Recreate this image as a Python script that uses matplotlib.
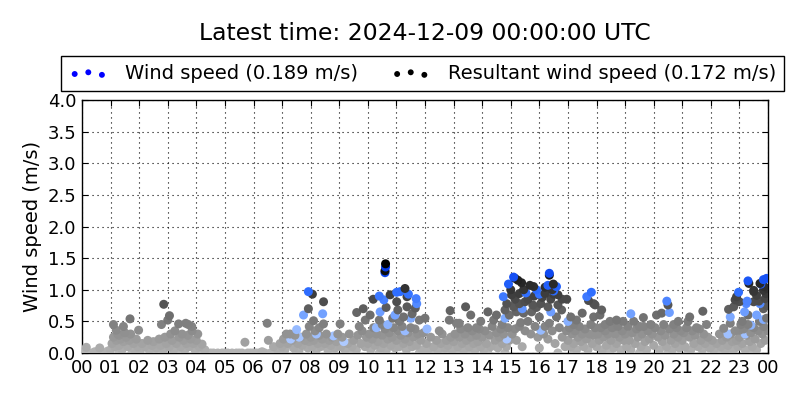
import numpy as np
import matplotlib
matplotlib.use("Agg")
import matplotlib.pyplot as plt
from matplotlib.colors import LinearSegmentedColormap

latest_time = "2024-12-09 00:00:00 UTC"
wind_latest = 0.189
resultant_latest = 0.172
hour_labels = ["%02d" % (h % 24) for h in range(25)]

# blue points: wind speed (hour of day, m/s)
wind_obs = [
    (7.30, 0.22), (7.51, 0.37), (7.60, 0.25), (7.75, 0.60), (7.92, 0.97),
    (8.20, 0.30), (8.42, 0.62), (8.80, 0.27), (9.16, 0.18),
    (10.30, 0.40), (10.40, 0.90), (10.43, 0.65), (10.56, 0.84), (10.60, 1.27),
    (10.62, 1.36), (10.70, 0.45), (10.95, 0.60),
    (11.01, 0.96), (11.13, 0.97), (11.30, 0.35), (11.42, 0.93), (11.50, 0.55),
    (11.69, 0.86), (11.71, 0.78), (12.07, 0.38),
    (14.74, 0.89), (14.80, 0.55), (14.86, 0.22), (14.92, 1.09),
    (15.10, 1.20), (15.40, 0.70), (15.53, 0.95), (15.90, 1.00),
    (16.00, 0.93), (16.05, 0.36), (16.30, 1.07), (16.35, 1.26), (16.40, 0.65),
    (16.50, 0.98), (16.60, 1.05), (17.00, 0.50), (17.66, 0.89), (17.82, 0.96),
    (19.20, 0.62), (20.46, 0.82), (20.55, 0.64),
    (22.60, 0.30), (22.68, 0.57), (22.97, 0.96),
    (23.18, 0.65), (23.20, 0.30), (23.24, 0.78), (23.27, 0.82), (23.30, 1.14),
    (23.40, 0.44), (23.60, 0.60), (23.72, 0.78), (23.75, 1.09), (23.84, 1.16),
    (23.84, 0.53), (23.95, 1.18),
]

# dark points: resultant wind speed
resultant_obs = [
    (1.10, 0.45), (1.20, 0.36), (1.30, 0.28), (1.45, 0.42), (1.50, 0.32),
    (1.68, 0.54), (1.98, 0.36),
    (2.78, 0.45), (2.86, 0.77), (3.00, 0.52), (3.06, 0.59), (3.38, 0.46),
    (3.63, 0.47), (3.72, 0.45), (3.84, 0.42), (6.48, 0.47),
    (7.92, 0.70), (7.95, 0.42), (8.06, 0.93), (8.10, 0.51), (8.30, 0.40),
    (8.45, 0.81), (8.45, 0.46), (9.03, 0.46), (9.61, 0.64), (9.70, 0.42),
    (9.84, 0.70), (9.91, 0.52),
    (10.08, 0.60), (10.19, 0.85), (10.40, 0.52), (10.50, 0.45), (10.60, 1.30),
    (10.62, 1.41), (10.64, 0.72), (10.78, 0.92), (10.87, 0.55),
    (11.01, 0.81), (11.05, 0.68), (11.10, 0.50), (11.25, 0.57), (11.30, 1.02),
    (11.37, 0.89), (11.37, 0.73), (11.55, 0.62), (11.66, 0.71), (11.80, 0.52),
    (12.00, 0.55), (12.50, 0.35), (12.85, 0.52), (12.88, 0.67),
    (13.10, 0.47), (13.20, 0.47), (13.42, 0.73), (13.60, 0.60), (13.80, 0.40),
    (13.95, 0.50), (14.20, 0.65), (14.40, 0.52), (14.50, 0.60), (14.70, 0.45),
    (14.80, 0.68), (14.86, 0.78), (14.95, 0.60),
    (15.00, 1.00), (15.03, 0.92), (15.10, 0.73), (15.15, 1.18), (15.15, 0.85),
    (15.20, 0.65), (15.25, 1.15), (15.30, 0.94), (15.30, 0.78), (15.30, 0.42),
    (15.38, 1.11), (15.45, 1.00), (15.45, 0.63), (15.50, 0.81), (15.60, 0.85),
    (15.67, 1.07), (15.73, 0.65), (15.77, 0.76), (15.80, 1.05), (15.82, 0.90),
    (15.90, 0.72),
    (16.00, 0.57), (16.05, 0.78), (16.10, 0.88), (16.20, 1.04), (16.20, 0.94),
    (16.30, 0.73), (16.35, 1.23), (16.35, 0.47), (16.40, 0.85), (16.45, 1.00),
    (16.49, 1.09), (16.50, 0.93), (16.60, 0.57), (16.65, 0.92), (16.65, 0.76),
    (16.78, 0.68), (16.80, 0.85), (16.96, 0.85),
    (17.10, 0.57), (17.20, 0.45), (17.30, 0.52), (17.50, 0.63), (17.72, 0.83),
    (17.90, 0.78), (17.90, 0.57), (17.95, 0.76),
    (18.12, 0.60), (18.18, 0.68), (18.30, 0.45), (18.47, 0.50), (18.70, 0.52),
    (18.93, 0.50), (19.30, 0.50), (19.50, 0.42), (19.64, 0.56), (19.90, 0.45),
    (20.10, 0.60), (20.28, 0.63), (20.50, 0.76), (20.70, 0.45), (20.86, 0.50),
    (21.20, 0.50), (21.26, 0.57), (21.50, 0.40), (21.72, 0.66),
    (22.30, 0.30), (22.45, 0.39), (22.62, 0.69), (22.68, 0.47), (22.80, 0.73),
    (22.85, 0.84), (22.90, 0.89),
    (23.00, 0.81), (23.00, 0.36), (23.10, 0.50), (23.30, 0.60), (23.33, 1.10),
    (23.50, 0.99), (23.50, 0.97), (23.50, 0.81), (23.60, 0.91), (23.68, 0.82),
    (23.72, 1.10), (23.84, 0.99), (23.84, 0.70), (23.86, 1.05), (23.90, 0.86),
    (23.93, 0.94), (23.95, 0.75), (23.97, 1.02),
]

# light cloud of older readings
history_obs = [
    (0.15, 0.09), (0.45, 0.02), (0.62, 0.08), (0.90, 0.03),
    (1.00, 0.05), (1.05, 0.15), (1.10, 0.25), (1.15, 0.10), (1.20, 0.20),
    (1.25, 0.30), (1.30, 0.12), (1.35, 0.22), (1.40, 0.05), (1.45, 0.18),
    (1.55, 0.25), (1.60, 0.10), (1.65, 0.20), (1.70, 0.30), (1.80, 0.15),
    (1.85, 0.05), (1.90, 0.22), (1.95, 0.10),
    (2.05, 0.05), (2.10, 0.15), (2.20, 0.10), (2.30, 0.20), (2.35, 0.05),
    (2.45, 0.12), (2.50, 0.18), (2.60, 0.08), (2.70, 0.22), (2.75, 0.12),
    (2.85, 0.05), (2.90, 0.25), (2.95, 0.15),
    (3.05, 0.10), (3.10, 0.30), (3.15, 0.20), (3.20, 0.05), (3.25, 0.35),
    (3.30, 0.15), (3.40, 0.25), (3.45, 0.10), (3.50, 0.30), (3.55, 0.20),
    (3.60, 0.05), (3.65, 0.15), (3.70, 0.28), (3.75, 0.10), (3.80, 0.22),
    (3.85, 0.35), (3.90, 0.15), (3.95, 0.05), (4.00, 0.20), (4.05, 0.30),
    (4.10, 0.10), (4.20, 0.14), (4.30, 0.05), (5.70, 0.17),
    (6.30, 0.02), (6.52, 0.20), (6.70, 0.10), (6.85, 0.05), (6.93, 0.15),
    (7.00, 0.10), (7.05, 0.22), (7.10, 0.05), (7.15, 0.30), (7.20, 0.15),
    (7.28, 0.30), (7.35, 0.20), (7.40, 0.08), (7.45, 0.28), (7.55, 0.15),
    (7.60, 0.05), (7.65, 0.25), (7.70, 0.12), (7.80, 0.20), (7.85, 0.30),
    (7.90, 0.08), (7.95, 0.18),
    (8.00, 0.25), (8.05, 0.10), (8.10, 0.20), (8.15, 0.35), (8.20, 0.05),
    (8.25, 0.15), (8.30, 0.28), (8.35, 0.10), (8.40, 0.22), (8.50, 0.15),
    (8.55, 0.30), (8.60, 0.05), (8.65, 0.20), (8.70, 0.12), (8.75, 0.25),
    (8.85, 0.08), (8.90, 0.18), (8.95, 0.30),
    (9.05, 0.10), (9.10, 0.25), (9.20, 0.05), (9.30, 0.15), (9.35, 0.30),
    (9.45, 0.10), (9.50, 0.20), (9.60, 0.05), (9.65, 0.28), (9.75, 0.15),
    (9.80, 0.35), (9.90, 0.10), (9.95, 0.25),
    (10.00, 0.15), (10.05, 0.30), (10.10, 0.05), (10.15, 0.22), (10.20, 0.40),
    (10.25, 0.12), (10.30, 0.30), (10.35, 0.18), (10.45, 0.08), (10.50, 0.28),
    (10.55, 0.15), (10.60, 0.38), (10.65, 0.05), (10.70, 0.22), (10.75, 0.32),
    (10.80, 0.12), (10.85, 0.25), (10.90, 0.40), (10.95, 0.08),
    (11.00, 0.20), (11.05, 0.35), (11.10, 0.10), (11.15, 0.28), (11.20, 0.42),
    (11.25, 0.15), (11.30, 0.22), (11.35, 0.05), (11.40, 0.32), (11.45, 0.18),
    (11.50, 0.40), (11.55, 0.10), (11.60, 0.25), (11.65, 0.38), (11.70, 0.12),
    (11.75, 0.30), (11.85, 0.20), (11.90, 0.05), (11.95, 0.32),
    (12.05, 0.15), (12.10, 0.05), (12.20, 0.25), (12.30, 0.10), (12.40, 0.20),
    (12.45, 0.05), (12.55, 0.15), (12.60, 0.30), (12.70, 0.08), (12.75, 0.20),
    (12.80, 0.12), (12.90, 0.25), (12.95, 0.05),
    (13.00, 0.18), (13.05, 0.30), (13.15, 0.10), (13.20, 0.25), (13.25, 0.38),
    (13.30, 0.15), (13.35, 0.05), (13.40, 0.30), (13.45, 0.20), (13.50, 0.40),
    (13.55, 0.10), (13.60, 0.25), (13.65, 0.35), (13.70, 0.15), (13.75, 0.05),
    (13.80, 0.28), (13.85, 0.18), (13.90, 0.38), (13.95, 0.10),
    (14.00, 0.25), (14.05, 0.05), (14.10, 0.35), (14.15, 0.15), (14.25, 0.28),
    (14.30, 0.10), (14.35, 0.42), (14.45, 0.20), (14.50, 0.32), (14.55, 0.08),
    (14.60, 0.25), (14.65, 0.38), (14.70, 0.15), (14.75, 0.30), (14.85, 0.10),
    (14.90, 0.40), (14.95, 0.20),
    (15.05, 0.30), (15.15, 0.38), (15.20, 0.20), (15.35, 0.48), (15.40, 0.10),
    (15.50, 0.35), (15.60, 0.50), (15.70, 0.30), (15.85, 0.42), (15.95, 0.25),
    (16.00, 0.08), (16.15, 0.30), (16.20, 0.42), (16.30, 0.22), (16.45, 0.35),
    (16.55, 0.15), (16.70, 0.40), (16.80, 0.25), (16.90, 0.10), (16.95, 0.35),
    (17.00, 0.20), (17.05, 0.40), (17.10, 0.10), (17.15, 0.30), (17.20, 0.15),
    (17.25, 0.35), (17.30, 0.05), (17.35, 0.25), (17.40, 0.42), (17.45, 0.18),
    (17.50, 0.30), (17.55, 0.10), (17.60, 0.38), (17.65, 0.22), (17.70, 0.05),
    (17.75, 0.30), (17.80, 0.45), (17.85, 0.15), (17.90, 0.28), (17.95, 0.40),
    (18.00, 0.10), (18.05, 0.30), (18.10, 0.20), (18.15, 0.40), (18.20, 0.05),
    (18.25, 0.25), (18.30, 0.35), (18.35, 0.12), (18.40, 0.30), (18.50, 0.20),
    (18.55, 0.40), (18.60, 0.08), (18.65, 0.30), (18.70, 0.15), (18.75, 0.42),
    (18.80, 0.25), (18.85, 0.05), (18.90, 0.35), (18.95, 0.20),
    (19.00, 0.30), (19.05, 0.10), (19.10, 0.42), (19.15, 0.20), (19.20, 0.05),
    (19.25, 0.32), (19.35, 0.15), (19.40, 0.38), (19.45, 0.25), (19.55, 0.10),
    (19.60, 0.30), (19.65, 0.42), (19.70, 0.18), (19.75, 0.05), (19.80, 0.35),
    (19.85, 0.22), (19.95, 0.30),
    (20.00, 0.12), (20.05, 0.40), (20.15, 0.25), (20.20, 0.05), (20.25, 0.35),
    (20.30, 0.18), (20.35, 0.45), (20.40, 0.28), (20.45, 0.10), (20.55, 0.38),
    (20.60, 0.20), (20.65, 0.05), (20.70, 0.30), (20.75, 0.15), (20.80, 0.40),
    (20.85, 0.25), (20.90, 0.08), (20.95, 0.35),
    (21.00, 0.20), (21.05, 0.32), (21.10, 0.10), (21.15, 0.40), (21.25, 0.25),
    (21.30, 0.05), (21.35, 0.35), (21.40, 0.15), (21.45, 0.28), (21.55, 0.10),
    (21.60, 0.38), (21.65, 0.20), (21.70, 0.05), (21.75, 0.30), (21.80, 0.15),
    (21.85, 0.45), (21.90, 0.25), (21.95, 0.08),
    (22.00, 0.10), (22.05, 0.20), (22.10, 0.05), (22.20, 0.15), (22.35, 0.10),
    (22.40, 0.20), (22.50, 0.05), (22.55, 0.25), (22.60, 0.12), (22.70, 0.30),
    (22.75, 0.18), (22.80, 0.05), (22.85, 0.35), (22.90, 0.20), (22.95, 0.10),
    (23.00, 0.25), (23.05, 0.45), (23.10, 0.15), (23.15, 0.38), (23.20, 0.05),
    (23.25, 0.28), (23.30, 0.45), (23.35, 0.18), (23.40, 0.32), (23.45, 0.10),
    (23.50, 0.40), (23.55, 0.22), (23.60, 0.05), (23.65, 0.35), (23.70, 0.50),
    (23.75, 0.15), (23.80, 0.30), (23.85, 0.42), (23.90, 0.20), (23.95, 0.55),
    (24.00, 0.35),
]

# readings of 0.0 m/s (calm)
calm_hours = [
    0.00, 0.10, 0.25, 0.35, 0.55, 0.70, 0.80, 0.95, 1.30, 1.75, 2.40, 2.65,
    3.35, 4.15, 4.35, 4.50, 4.60, 4.75, 4.90, 5.00, 5.10, 5.25, 5.40, 5.50,
    5.60, 5.80, 5.90, 6.00, 6.10, 6.20, 6.40, 6.60, 6.80, 7.50, 8.80, 9.40,
    10.40, 11.80, 12.15, 12.35, 12.65, 12.85, 13.10, 13.60, 14.20, 14.80,
    16.65, 17.20, 18.45, 19.50, 20.50, 21.20, 22.25, 22.65, 23.40,
]

# gray shades for resultant/history, blue for wind speed (shade follows speed)
gray_cmap = LinearSegmentedColormap.from_list(
    "grays", [(0.0, "#b4b4b4"), (0.35, "#7c7c7c"), (0.6, "#4a4a4a"), (1.0, "#000000")])
blue_cmap = LinearSegmentedColormap.from_list(
    "blues", [(0.0, "#c4d8ff"), (0.4, "#7eaaff"), (0.7, "#2c6cff"), (1.0, "#0036e8")])

gray_pts = resultant_obs + history_obs + [(h, 0.0) for h in calm_hours]
g = np.array(gray_pts)
w = np.array(wind_obs)
hours = np.concatenate([g[:, 0], w[:, 0]])
speeds = np.concatenate([g[:, 1], w[:, 1]])
colors = np.concatenate([gray_cmap(np.clip(g[:, 1] / 1.4, 0, 1)),
                         blue_cmap(np.clip(w[:, 1] / 1.4, 0, 1))])
order = np.argsort(speeds, kind="stable")

fig = plt.figure(figsize=(8, 4), dpi=100)
ax = fig.add_axes([0.1025, 0.1175, 0.8575, 0.6325])
ax.scatter(hours[order], speeds[order], c=colors[order], s=42, linewidths=0, zorder=3)

ax.set_xlim(0, 24)
ax.set_ylim(0, 4.0)
ax.set_xticks(range(25))
ax.set_xticklabels(hour_labels)
ax.set_yticks(np.arange(0, 4.01, 0.5))
ax.set_yticklabels(["%.1f" % v for v in np.arange(0, 4.01, 0.5)])
ax.tick_params(direction="in", top=True, right=True, labelsize=13, length=4, pad=4)
ax.grid(True, linestyle=(0, (1, 3.5)), color="k", linewidth=0.8, zorder=1)
ax.set_axisbelow(True)
for sp in ax.spines.values():
    sp.set_linewidth(1.0)
ax.set_ylabel("Wind speed (m/s)", fontsize=14)

h1 = ax.scatter([], [], c="#0000ff", s=18, linewidths=0)
h2 = ax.scatter([], [], c="#000000", s=18, linewidths=0)
leg = fig.legend([h1, h2],
                 ["Wind speed (%.3f m/s)" % wind_latest,
                  "Resultant wind speed (%.3f m/s)" % resultant_latest],
                 loc="center", bbox_to_anchor=(0.528, 0.816), ncol=2,
                 scatterpoints=3, fontsize=14, fancybox=False, framealpha=1,
                 edgecolor="k", handletextpad=0.9, columnspacing=1.7,
                 borderpad=0.4, handlelength=2.0)
leg.get_frame().set_linewidth(1.0)

fig.suptitle("Latest time: " + latest_time, x=0.531, y=0.945, va="top", fontsize=16.9)

fig.savefig("out.png", dpi=100)
